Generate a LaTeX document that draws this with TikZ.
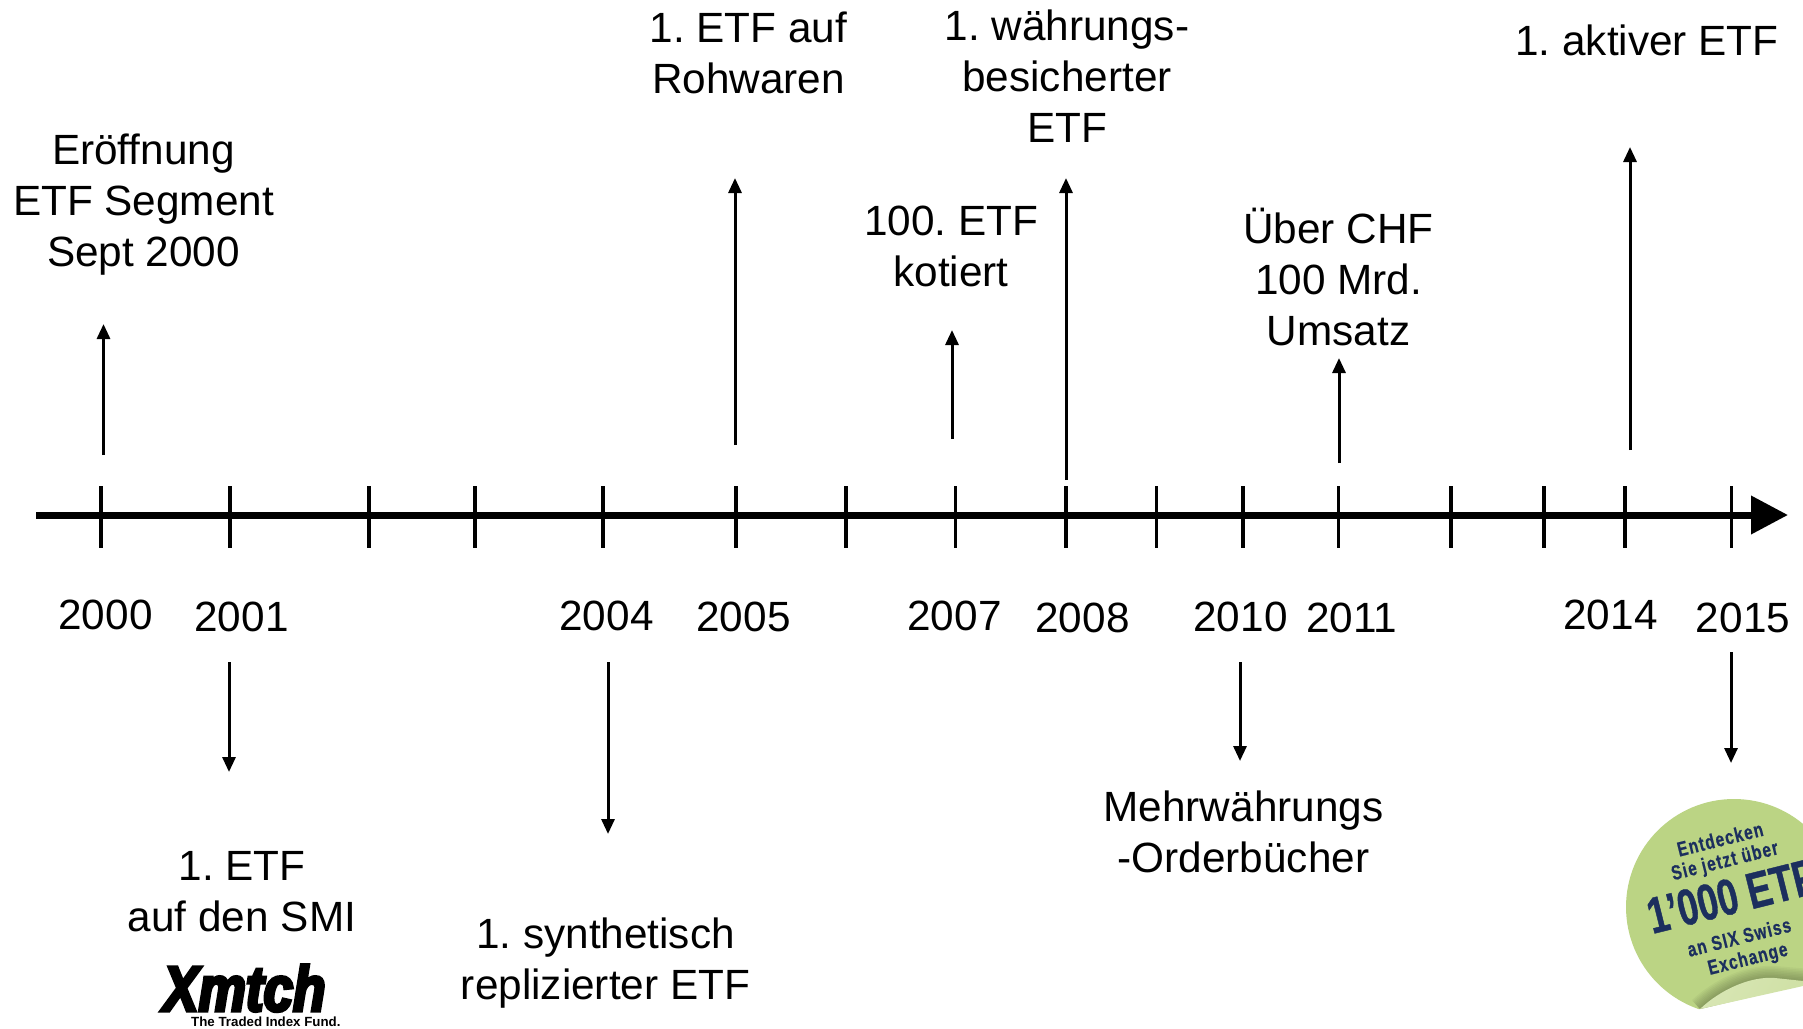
\documentclass[tikz,border=0pt]{standalone}
\usepackage{fontspec}
\setmainfont{Liberation Sans}
\newfontfamily\stickerf[FakeStretch=.75,LetterSpace=6,FakeBold=.6]{Liberation Sans}
\newfontfamily\stickerbig[FakeStretch=.72,FakeBold=.8]{Liberation Sans}
\newfontfamily\logof[FakeStretch=.83,FakeBold=5]{Liberation Sans}
\usetikzlibrary{arrows.meta}
\definecolor{stickergreen}{HTML}{BBD484}
\definecolor{stickerlight}{HTML}{D8E6B4}
\definecolor{stickernavy}{HTML}{1C2F5E}
\tikzset{
  lbl/.style={inner sep=0pt,align=center,font=\frenchspacing\fontsize{42.3}{51}\selectfont},
  yearlbl/.style={inner sep=0pt,font=\fontsize{42.3}{51}\selectfont},
  evarrow/.style={line width=3pt,-{Triangle[length=15pt,width=13pt]}},
  tick/.style={line width=3.2pt},
  axisline/.style={line width=7pt,-{Triangle[length=37pt,width=37pt,sep=0pt]}},
  stk/.style={inner sep=0pt,rotate=14,text=stickernavy,font=\stickerf\bfseries\fontsize{20.5}{24}\selectfont},
}
\begin{document}
\begin{tikzpicture}[x=1pt,y=-1pt]
\useasboundingbox (0,0) rectangle (1803,1028);
\fill[white] (0,0) rectangle (1803,1028);

% axis
\coordinate (axS) at (36,515);
\coordinate (axE) at (1788,515);
\draw[axisline] (axS) -- (axE);
\foreach \tx [count=\n] in {101,230,369,475,603,736,846,955.5,1066,1156.5,1243,1338.5,1451,1544,1625,1731.5}{
  \coordinate (tT\n) at (\tx,486);
  \coordinate (tB\n) at (\tx,548);
  \draw[tick] (tT\n) -- (tB\n);
}

% years
\node[yearlbl] (y2000) at (105.5,615) {2000};
\node[yearlbl] (y2001) at (241.5,617) {2001};
\node[yearlbl] (y2004) at (606.5,616) {2004};
\node[yearlbl] (y2005) at (743.5,617) {2005};
\node[yearlbl] (y2007) at (954.5,616) {2007};
\node[yearlbl] (y2008) at (1082.5,618) {2008};
\node[yearlbl] (y2010) at (1240.5,617) {2010};
\node[yearlbl] (y2011) at (1351.5,618) {2011};
\node[yearlbl] (y2014) at (1610.5,615) {2014};
\node[yearlbl] (y2015) at (1743,618) {2015};

% labels above
\node[lbl] (eroeff) at (143.5,204.5) {Eröffnung\\ETF Segment\\Sept 2000};
\node[lbl] (rohw) at (748.5,53) {1. ETF auf\\Rohwaren};
\node[lbl] (waehr) at (1067,76) {1. währungs-\\besicherter\\ETF};
\node[lbl] (hundert) at (951,246) {100. ETF\\kotiert};
\node[lbl] (chf) at (1338.5,277) {Über CHF\\100 Mrd.\\Umsatz};
\node[lbl] (aktiv) at (1647,40) {1. aktiver ETF};

% labels below
\node[lbl] (smi) at (242,892) {1. ETF\\auf den SMI};
\node[lbl] (synth) at (605.5,963.5) {1. synthetisch\\replizierter ETF};
\node[lbl] (mehr) at (1243.5,832) {Mehrwährungs\\-Orderbücher};

% event arrows
\coordinate (a1s) at (103.5,455); \coordinate (a1e) at (103.5,324);
\coordinate (a2s) at (229,662);   \coordinate (a2e) at (229,772);
\coordinate (a3s) at (608,662);   \coordinate (a3e) at (608,834);
\coordinate (a4s) at (735,445);   \coordinate (a4e) at (735,178);
\coordinate (a5s) at (952,439);   \coordinate (a5e) at (952,330);
\coordinate (a6s) at (1066,480);  \coordinate (a6e) at (1066,178);
\coordinate (a7s) at (1240,662);  \coordinate (a7e) at (1240,761);
\coordinate (a8s) at (1339,463);  \coordinate (a8e) at (1339,358);
\coordinate (a9s) at (1630,450);  \coordinate (a9e) at (1630,147);
\coordinate (a10s) at (1731,652); \coordinate (a10e) at (1731,763);
\foreach \i in {1,...,10}{ \draw[evarrow] (a\i s) -- (a\i e); }

% sticker
\begin{scope}
  \clip (1600,780) -- (1803,780) -- (1803,985) -- (1700,1009) -- (1600,1030) -- cycle;
  \fill[stickergreen] (1734,907) circle[radius=108];
  % shadow above curl
  \begin{scope}
    \clip (1734,907) circle[radius=108];
    \foreach \w in {3,6,...,24}{
      \draw[black!60!stickergreen,opacity=.06,line width=\w pt]
        (1700,1009) .. controls (1720,990) and (1750,976) .. (1775,978) -- (1810,981);
    }
  \end{scope}
\end{scope}
\shade[left color=stickerlight,right color=stickerlight!70!stickergreen,shading angle=60]
  (1700,1009) .. controls (1720,990) and (1750,976) .. (1775,978)
  -- (1803,981) -- (1803,986) -- cycle;

\node[stk] (st1) at (1720,839) {Entdecken};
\node[stk] (st2) at (1725,862) {Sie jetzt über};
\node[inner sep=0pt,rotate=14,anchor=west,text=stickernavy,font=\stickerbig\bfseries\fontsize{51}{51}\selectfont] (st3) at (1648,917) {1’000 ETF};
\node[stk] (st4) at (1739,937) {an SIX Swiss};
\node[stk] (st5) at (1748,960) {Exchange};

% logo
\node[inner sep=0pt,anchor=base west,font=\logof\bfseries\itshape\fontsize{64}{64}\selectfont] (logo) at (163,1011) {Xmtch};
\node[inner sep=0pt,anchor=base west,font=\bfseries\fontsize{13.3}{14}\selectfont] (tagline) at (191,1026) {The Traded Index Fund.};
\end{tikzpicture}
\end{document}
